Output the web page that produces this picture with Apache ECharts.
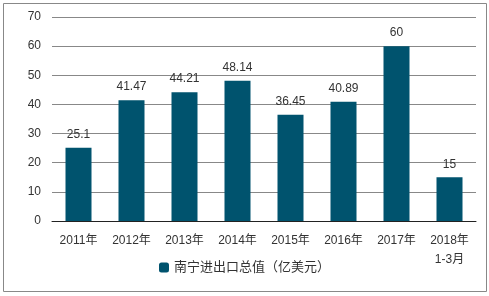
<!DOCTYPE html>
<html>
<head>
<meta charset="utf-8">
<script src="https://cdn.jsdelivr.net/npm/echarts@6/dist/echarts.min.js"></script>
<style>
  html, body { margin: 0; padding: 0; background: #fff; }
  #chart { width: 489px; height: 296px; }
</style>
</head>
<body>
<div id="chart"></div>
<script>
var categories = ['2011年', '2012年', '2013年', '2014年', '2015年', '2016年', '2017年', '2018年\n1-3月'];
var values = [25.1, 41.47, 44.21, 48.14, 36.45, 40.89, 60, 15];
var seriesName = '南宁进出口总值（亿美元）';

var myChart = echarts.init(document.getElementById('chart'));

var option = {
    animation: false,
    textStyle: {
        fontFamily: 'Arial, "Liberation Sans", "Noto Sans CJK SC", sans-serif'
    },
    graphic: [
        {
            type: 'rect',
            shape: { x: 3.5, y: 3.5, width: 483, height: 288 },
            style: { fill: 'none', stroke: '#888', lineWidth: 1 }
        }
    ],
    grid: {
        left: 52,
        right: 13,
        top: 17,
        bottom: 75
    },
    legend: {
        bottom: 17,
        left: 'center',
        itemWidth: 10,
        itemHeight: 10,
        itemGap: 4,
        textStyle: { fontSize: 13, color: '#333' },
        data: [seriesName]
    },
    xAxis: {
        type: 'category',
        data: categories,
        axisLine: { lineStyle: { color: '#222', width: 1 } },
        axisTick: { show: false },
        axisLabel: {
            color: '#333',
            fontSize: 12,
            margin: 10,
            lineHeight: 19,
            interval: 0
        }
    },
    yAxis: {
        type: 'value',
        min: 0,
        max: 70,
        interval: 10,
        axisLine: { show: false },
        axisTick: { show: false },
        axisLabel: { color: '#333', fontSize: 12, margin: 11 },
        splitLine: { lineStyle: { color: '#888', width: 1 } }
    },
    series: [
        {
            name: seriesName,
            type: 'bar',
            data: values,
            barWidth: 26,
            itemStyle: { color: '#00536E' },
            label: {
                show: true,
                position: 'top',
                distance: 7,
                color: '#333',
                fontSize: 12
            }
        }
    ]
};

myChart.setOption(option);
</script>
</body>
</html>
